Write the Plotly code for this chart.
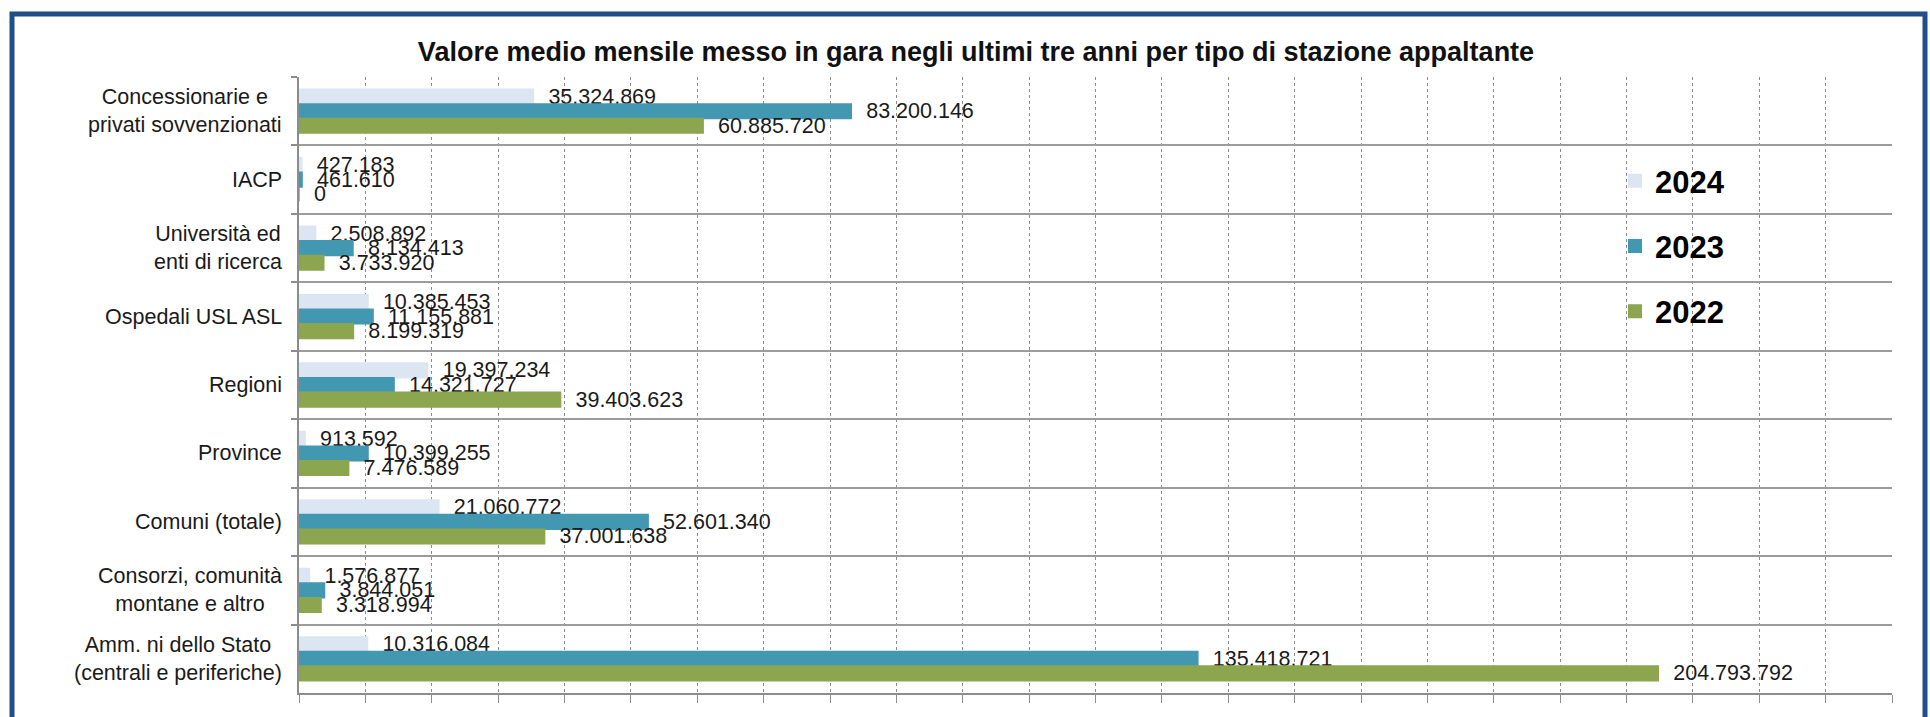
import plotly.graph_objects as go

# ---------------- data ----------------
categories = [
    "Concessionarie e<br>privati sovvenzionati",
    "IACP",
    "Università ed<br>enti di ricerca",
    "Ospedali USL ASL",
    "Regioni",
    "Province",
    "Comuni (totale)",
    "Consorzi, comunità<br>montane e altro",
    "Amm. ni dello Stato<br>(centrali e periferiche)",
]
years = ["2024", "2023", "2022"]
values_2024 = [35324869, 427183, 2508892, 10385453, 19397234, 913592, 21060772, 1576877, 10316084]
values_2023 = [83200146, 461610, 8134413, 11155881, 14321727, 10399255, 52601340, 3844051, 135418721]
values_2022 = [60885720, 0, 3733920, 8199319, 39403623, 7476589, 37001638, 3318994, 204793792]
series = [values_2024, values_2023, values_2022]
colors = ["#dce6f2", "#4398b1", "#8ba64f"]

title = "Valore medio mensile messo in gara negli ultimi tre anni per tipo di stazione appaltante"

# ---------------- layout geometry ----------------
W, H = 1930, 717
L, R, T, B = 299, 38, 77, 24
PW, PH = W - L - R, H - T - B

FONT = "Liberation Sans, Arial, sans-serif"
fig = go.Figure()

for yr, vals, col in zip(years, series, colors):
    fig.add_trace(go.Bar(
        name=yr,
        y=categories,
        x=vals,
        orientation="h",
        marker=dict(color=col, line=dict(color=col, width=1.5)),
        texttemplate="\u00a0\u00a0%{x:,.0f}",
        textposition="outside",
        textfont=dict(family=FONT, size=21.5, color="#1a1a1a"),
        constraintext="none",
        cliponaxis=False,
        legendgroup=yr,
        hoverinfo="skip",
    ))

# category labels (centered multi-line, right aligned to axis)
for c in categories:
    fig.add_annotation(
        x=0, xref="paper", y=c, yref="y",
        text=c, showarrow=False,
        xanchor="right", yanchor="middle", align="center",
        xshift=-15,
        font=dict(family=FONT, size=21.5, color="#1a1a1a"),
    )

def px_x(p):
    return (p - L) / PW

def px_y(p):
    return (H - B - p) / PH

# frame
fig.add_shape(type="rect", xref="paper", yref="paper",
              x0=px_x(12), x1=px_x(1925), y0=px_y(760), y1=px_y(14),
              line=dict(color="#1f4e89", width=5), fillcolor="rgba(0,0,0,0)",
              layer="above")

fig.update_layout(
    width=W, height=H,
    margin=dict(l=L, r=R, t=T, b=B, pad=0),
    paper_bgcolor="white", plot_bgcolor="white",
    separators=",.",
    barmode="group",
    bargap=0.36,
    bargroupgap=0,
    title=dict(text=f"<b>{title}</b>", x=976 / W, xanchor="center",
               y=1 - 52 / H, yanchor="middle", yref="container",
               font=dict(family=FONT, size=27, color="#111111")),
    legend=dict(x=px_x(1615), xanchor="left", y=px_y(154), yanchor="top",
                font=dict(family=FONT, size=31, color="#000000", weight="bold"),
                bgcolor="rgba(0,0,0,0)", tracegroupgap=22,
                itemsizing="constant"),
    xaxis=dict(range=[0, 240000000], dtick=10000000, tick0=0,
               showticklabels=False, showgrid=True, gridcolor="#8c8c8c",
               griddash="dot", gridwidth=1, zeroline=False,
               showline=True, linecolor="#8c8c8c", linewidth=2,
               ticks="outside", ticklen=8, tickcolor="#8c8c8c", tickwidth=1),
    yaxis=dict(autorange="reversed", tickson="boundaries",
               showticklabels=False, showgrid=True, gridcolor="#9c9c9c",
               gridwidth=2, showline=True, linecolor="#8c8c8c", linewidth=2,
               ticks="outside", ticklen=6, tickcolor="#8c8c8c", tickwidth=2,
               mirror=False),
    showlegend=True,
)

fig.write_html(
    "out.html",
    config={"displayModeBar": False},
    post_script="document.body.style.margin='0';document.body.style.overflow='hidden';",
)
